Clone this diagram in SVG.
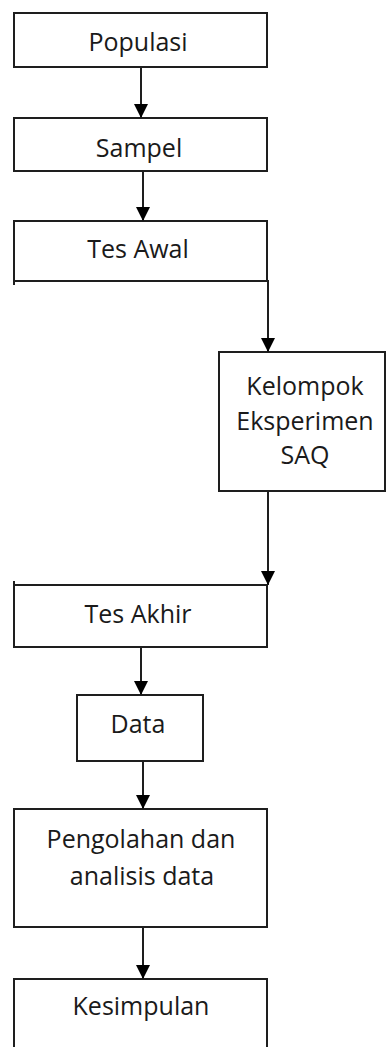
<svg xmlns="http://www.w3.org/2000/svg" width="387" height="1047" viewBox="0 0 387 1047">
<style>
.box{fill:none;stroke:#1e1e1e;stroke-width:2}
.t{font-family:"Open Sans","Liberation Sans",sans-serif;font-size:25px;fill:#1a1a1a;text-anchor:middle}
.c{fill:none;stroke:#1e1e1e;stroke-width:2}
</style>
<defs>
<marker id="ah" viewBox="0 0 10 10" refX="10" refY="5" markerWidth="7" markerHeight="7" markerUnits="strokeWidth" orient="auto">
<path d="M0,0 L10,5 L0,10 Z" fill="#000"/>
</marker>
</defs>
<rect width="387" height="1047" fill="#fff"/>
<g id="populasi"><rect class="box" x="14" y="13" width="253" height="54"/><text class="t" x="138" y="51">Populasi</text></g>
<g id="sampel"><rect class="box" x="14" y="118" width="253" height="53"/><text class="t" x="139" y="157">Sampel</text></g>
<g id="tes-awal"><path class="box" d="M14,285 V221 H267 V281 H14"/><text class="t" x="138" y="258">Tes Awal</text></g>
<g id="kelompok"><rect class="box" x="219" y="352" width="166" height="139"/><text class="t" x="305" y="395">Kelompok</text><text class="t" x="305" y="430">Eksperimen</text><text class="t" x="305" y="464">SAQ</text></g>
<g id="tes-akhir"><path class="box" d="M14,581 V647 H267 V585 H14"/><text class="t" x="138" y="623">Tes Akhir</text></g>
<g id="data"><rect class="box" x="77" y="695" width="126" height="66"/><text class="t" x="138" y="733">Data</text></g>
<g id="pengolahan"><rect class="box" x="14" y="809" width="253" height="118"/><text class="t" x="141" y="848">Pengolahan dan</text><text class="t" x="142" y="885">analisis data</text></g>
<g id="kesimpulan"><path class="box" d="M14,1050 V979 H267 V1050"/><text class="t" x="141" y="1015">Kesimpulan</text></g>
<g id="connectors">
<line class="c" x1="141" y1="67" x2="141" y2="118" marker-end="url(#ah)"/>
<line class="c" x1="143" y1="171" x2="143" y2="221" marker-end="url(#ah)"/>
<polyline class="c" points="267,281 268,281 268,352" marker-end="url(#ah)"/>
<line class="c" x1="268" y1="491" x2="268" y2="585" marker-end="url(#ah)"/>
<line class="c" x1="141" y1="647" x2="141" y2="695" marker-end="url(#ah)"/>
<line class="c" x1="143" y1="761" x2="143" y2="809" marker-end="url(#ah)"/>
<line class="c" x1="143" y1="927" x2="143" y2="979" marker-end="url(#ah)"/>
</g>
</svg>
